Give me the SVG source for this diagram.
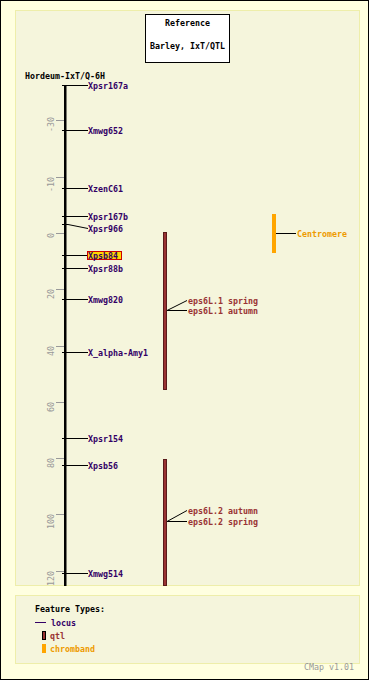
<svg xmlns="http://www.w3.org/2000/svg" width="369" height="680" viewBox="0 0 369 680">
<style>
text{font-family:"DejaVu Sans Mono","Liberation Mono",monospace;font-size:8.3px;font-weight:bold}
.blk{fill:#000}
.loc{fill:#330066}
.qt{fill:#993333}
.cb{fill:#EE9A00}
.scl{fill:#999999;font-weight:normal}
.conn line{stroke:#000;stroke-width:1}
.tick{stroke:#999999;stroke-width:1}
</style>
<rect x="0.5" y="0.5" width="368" height="679" fill="#FFFFE0" stroke="#000"/>
<rect x="15.5" y="10.5" width="344" height="575" fill="#F5F5DC" stroke="#EEEEAA"/>
<rect x="15.5" y="595.5" width="344" height="68" fill="#F5F5DC" stroke="#EEEEAA"/>

<g id="reference">
<rect x="145.5" y="14.5" width="84" height="48" fill="#FFFFFF" stroke="#000"/>
<text x="187.5" y="26" text-anchor="middle" class="blk">Reference</text>
<text x="187.5" y="49" text-anchor="middle" class="blk">Barley, IxT/QTL</text>
</g>

<g id="map">
<text x="25" y="78.5" class="blk">Hordeum-IxT/Q-6H</text>
<rect x="64" y="85" width="2.5" height="501" fill="#000"/>
<g id="scale">
<line class="tick" x1="56" y1="120.5" x2="64" y2="120.5"/>
<line class="tick" x1="56" y1="177.5" x2="64" y2="177.5"/>
<line class="tick" x1="56" y1="233.5" x2="64" y2="233.5"/>
<line class="tick" x1="56" y1="289.5" x2="64" y2="289.5"/>
<line class="tick" x1="56" y1="346.5" x2="64" y2="346.5"/>
<line class="tick" x1="56" y1="402.5" x2="64" y2="402.5"/>
<line class="tick" x1="56" y1="458.5" x2="64" y2="458.5"/>
<line class="tick" x1="56" y1="514.5" x2="64" y2="514.5"/>
<line class="tick" x1="56" y1="571.5" x2="64" y2="571.5"/>
<text class="scl" text-anchor="end" transform="translate(54,117) rotate(-90)">-30</text>
<text class="scl" text-anchor="end" transform="translate(54,177) rotate(-90)">-10</text>
<text class="scl" text-anchor="end" transform="translate(54,233) rotate(-90)">0</text>
<text class="scl" text-anchor="end" transform="translate(54,289) rotate(-90)">20</text>
<text class="scl" text-anchor="end" transform="translate(54,346) rotate(-90)">40</text>
<text class="scl" text-anchor="end" transform="translate(54,402) rotate(-90)">60</text>
<text class="scl" text-anchor="end" transform="translate(54,458) rotate(-90)">80</text>
<text class="scl" text-anchor="end" transform="translate(54,514) rotate(-90)">100</text>
<text class="scl" text-anchor="end" transform="translate(54,571) rotate(-90)">120</text>
</g>
</g>

<g id="connectors" class="conn">
<line x1="62" y1="85.5" x2="88" y2="85.5"/>
<line x1="62" y1="130.5" x2="88" y2="130.5"/>
<line x1="62" y1="188.5" x2="88" y2="188.5"/>
<line x1="62" y1="216.5" x2="88" y2="216.5"/>
<line x1="62" y1="224.5" x2="68" y2="224.5"/>
<line x1="68" y1="224.5" x2="88" y2="228.5"/>
<line x1="62" y1="255.5" x2="87" y2="255.5"/>
<line x1="62" y1="268.5" x2="88" y2="268.5"/>
<line x1="62" y1="299.5" x2="88" y2="299.5"/>
<line x1="62" y1="352.5" x2="88" y2="352.5"/>
<line x1="62" y1="438.5" x2="88" y2="438.5"/>
<line x1="62" y1="465.5" x2="88" y2="465.5"/>
<line x1="62" y1="573.5" x2="88" y2="573.5"/>
<line x1="167" y1="310.5" x2="187" y2="300.5"/>
<line x1="167" y1="310.5" x2="187" y2="310.5"/>
<line x1="167" y1="521.5" x2="187" y2="510.5"/>
<line x1="167" y1="521.5" x2="187" y2="521.5"/>
<line x1="276" y1="233.5" x2="296" y2="233.5"/>
</g>

<g id="Xpsr167a"><text x="88" y="89" class="loc">Xpsr167a</text></g>
<g id="Xmwg652"><text x="88" y="133.5" class="loc">Xmwg652</text></g>
<g id="XzenC61"><text x="88" y="191.5" class="loc">XzenC61</text></g>
<g id="Xpsr167b"><text x="88" y="219.5" class="loc">Xpsr167b</text></g>
<g id="Xpsr966"><text x="88" y="231.5" class="loc">Xpsr966</text></g>
<g id="Xpsb84"><rect x="87.5" y="251.5" width="34" height="8" fill="#FFD700" stroke="#CC0000"/><text x="88" y="258.5" class="loc">Xpsb84</text></g>
<g id="Xpsr88b"><text x="88" y="271.5" class="loc">Xpsr88b</text></g>
<g id="Xmwg820"><text x="88" y="302.5" class="loc">Xmwg820</text></g>
<g id="X_alpha-Amy1"><text x="88" y="355.5" class="loc">X_alpha-Amy1</text></g>
<g id="Xpsr154"><text x="88" y="441.5" class="loc">Xpsr154</text></g>
<g id="Xpsb56"><text x="88" y="468.5" class="loc">Xpsb56</text></g>
<g id="Xmwg514"><text x="88" y="576.5" class="loc">Xmwg514</text></g>

<g id="qtl1"><rect x="163.5" y="232.5" width="3" height="157" fill="#993333" stroke="#5a1a1a"/></g>
<g id="eps6L1spring"><text x="188" y="303.5" class="qt">eps6L.1 spring</text></g>
<g id="eps6L1autumn"><text x="188" y="313.5" class="qt">eps6L.1 autumn</text></g>
<g id="qtl2"><rect x="163.5" y="459.5" width="3" height="126" fill="#993333" stroke="#5a1a1a"/></g>
<g id="eps6L2autumn"><text x="188" y="513.5" class="qt">eps6L.2 autumn</text></g>
<g id="eps6L2spring"><text x="188" y="524.5" class="qt">eps6L.2 spring</text></g>
<g id="centromere"><rect x="272" y="214" width="4" height="39" fill="#FFA500"/><text x="297" y="236.5" class="cb">Centromere</text></g>

<g id="legend">
<text x="35" y="612" class="blk">Feature Types:</text>
<line x1="35" y1="622.5" x2="46" y2="622.5" stroke="#330066"/>
<text x="51" y="626" class="loc">locus</text>
<rect x="42.5" y="631.5" width="3" height="8" fill="#993333" stroke="#000"/>
<text x="50" y="639" class="qt">qtl</text>
<rect x="42" y="644" width="4" height="9" fill="#FFA500"/>
<text x="50" y="652" class="cb">chromband</text>
<text x="304" y="670" class="scl">CMap v1.01</text>
</g>
</svg>
